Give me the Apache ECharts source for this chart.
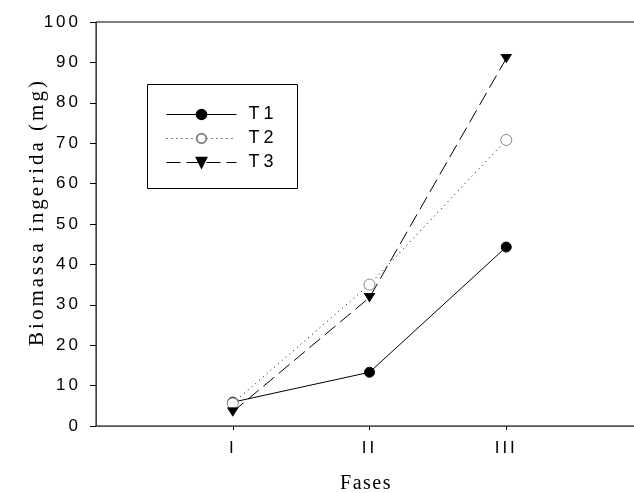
<!DOCTYPE html>
<html>
<head>
<meta charset="utf-8">
<script src="https://cdn.jsdelivr.net/npm/echarts@6/dist/echarts.min.js"></script>
<style>html,body{margin:0;padding:0;background:#fff}#c{width:634px;height:493px}</style>
</head>
<body>
<div id="c"></div>
<script>
const phases = ['I', 'II', 'III'];
const t1 = [5.9, 13.3, 44.3];
const t2 = [5.6, 35.0, 70.8];
const t3 = [3.5, 31.8, 91.0];
const yTicks = { min: 0, max: 100, interval: 10 };
const xTitle = 'Fases';
const yTitle = 'Biomassa ingerida (mg)';

// slightly wide letter spacing as in the reference rendering
(function () {
  const proto = CanvasRenderingContext2D.prototype;
  const orig = proto.fillText;
  if (!('letterSpacing' in proto)) return;
  proto.fillText = function () {
    const prev = this.letterSpacing;
    const f = this.font || '';
    let ls = '0px';
    if (/21px/.test(f)) ls = '3px';
    else if (/20px/.test(f)) ls = '1.5px';
    else if (/18px/.test(f)) ls = '4px';
    else if (/17px/.test(f)) ls = '3px';
    this.letterSpacing = ls;
    orig.apply(this, arguments);
    this.letterSpacing = prev;
  };
})();

const cats = [''].concat(phases, ['']);
const pad = arr => [null].concat(arr, [null]);

const chart = echarts.init(document.getElementById('c'), null, { renderer: 'canvas' });
chart.setOption({
  animation: false,
  backgroundColor: '#fff',
  grid: { left: 96, top: 22, width: 547, height: 404, outerBoundsMode: 'none', containLabel: false,
    show: true, borderColor: '#000', borderWidth: 1, backgroundColor: 'transparent' },
  xAxis: {
    type: 'category', data: cats, boundaryGap: false,
    axisLine: { lineStyle: { color: '#555', width: 1 } },
    axisTick: { show: true, length: 4, inside: false, interval: (i, v) => v !== '', lineStyle: { color: '#000' } },
    axisLabel: { interval: 0, color: '#000', fontFamily: 'Liberation Sans', fontSize: 17, margin: 14 },
    splitLine: { show: false }
  },
  yAxis: {
    type: 'value', min: yTicks.min, max: yTicks.max, interval: yTicks.interval,
    axisLine: { show: true, lineStyle: { color: '#444', width: 1 } },
    axisTick: { show: true, length: 6, lineStyle: { color: '#000' } },
    axisLabel: { color: '#000', fontFamily: 'Liberation Sans', fontSize: 17, margin: 15 },
    splitLine: { show: false }
  },
  legend: {
    orient: 'vertical', left: 166, top: 105.5, padding: 0,
    itemWidth: 70, itemHeight: 12, itemGap: 6,
    lineStyle: { width: 1, color: '#000' },
    textStyle: { color: '#000', fontFamily: 'Liberation Sans', fontSize: 18, padding: [0, 0, 0, 7] },
    data: ['T1', 'T2', 'T3']
  },
  graphic: [
    { type: 'rect', shape: { x: 147.5, y: 84.5, width: 150, height: 104 }, style: { fill: 'none', stroke: '#000', lineWidth: 1 }, z: 10 },
    { type: 'text', x: 366, y: 484, style: { text: xTitle, fill: '#000', font: '20px "Liberation Serif"', textAlign: 'center', textVerticalAlign: 'middle' } },
    { type: 'text', x: 37, y: 212, rotation: Math.PI / 2, style: { text: yTitle, fill: '#000', font: '21px "Liberation Serif"', textAlign: 'center', textVerticalAlign: 'middle' } }
  ],
  series: [
    { name: 'T1', type: 'line', data: pad(t1), symbol: 'circle', symbolSize: 10,
      lineStyle: { color: '#000', width: 1, type: 'solid' },
      itemStyle: { color: '#000', borderColor: '#000', borderWidth: 1 } },
    { name: 'T2', type: 'line', data: pad(t2), symbol: 'circle', symbolSize: 11,
      lineStyle: { color: '#000', width: 1, type: [1, 4] },
      itemStyle: { color: '#fff', borderColor: '#888', borderWidth: 1 } },
    { name: 'T3', type: 'line', data: pad(t3), symbol: 'triangle', symbolSize: [10, 8], symbolRotate: 180,
      lineStyle: { color: '#000', width: 1, type: [14, 6] },
      itemStyle: { color: '#000', borderColor: '#000', borderWidth: 1 } }
  ]
});
</script>
</body>
</html>
